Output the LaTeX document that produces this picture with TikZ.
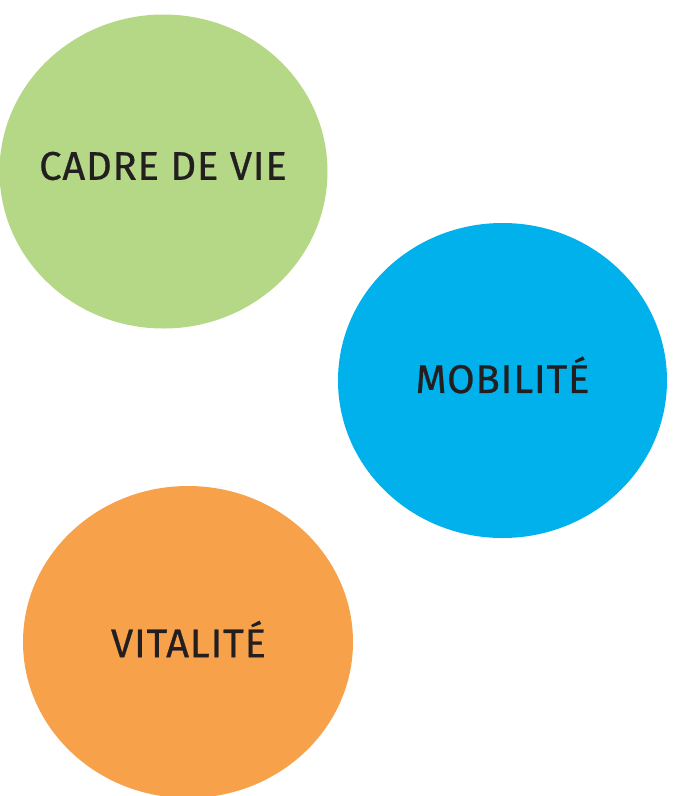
\documentclass[tikz,border=0pt]{standalone}
\usepackage{fontspec}
\setmainfont{Fira Sans}[LetterSpace=2, FakeBold=0.6]
\usetikzlibrary{shapes.geometric}
\definecolor{cgreen}{HTML}{B5D886}
\definecolor{cblue}{HTML}{00B1EB}
\definecolor{corange}{HTML}{F7A24B}
\definecolor{ctext}{HTML}{231F20}
\tikzset{
  disc/.style={ellipse, inner sep=0pt, draw=none},
  lbl/.style={text=ctext, font=\fontsize{40}{40}\selectfont, inner sep=0pt, anchor=center}
}
\begin{document}
\begin{tikzpicture}[x=1pt,y=-1pt]
\useasboundingbox (0,0) rectangle (683,796);
\begin{scope}
\clip (0,0) rectangle (683,796);
\node[disc, fill=cgreen, minimum width=328pt, minimum height=314pt] (vie) at (163.5,171.5) {};
\node[disc, fill=cblue, minimum width=329pt, minimum height=315pt] (mob) at (502.5,380.5) {};
\node[disc, fill=corange, minimum width=330pt, minimum height=312pt] (vit) at (188,642) {};
\end{scope}
\node[lbl] (tvie) at (163,166) {CADRE DE VIE};
\node[lbl] (tmob) at (502.5,375) {MOBILITÉ};
\node[lbl] (tvit) at (188.5,639) {VITALITÉ};
\end{tikzpicture}
\end{document}
